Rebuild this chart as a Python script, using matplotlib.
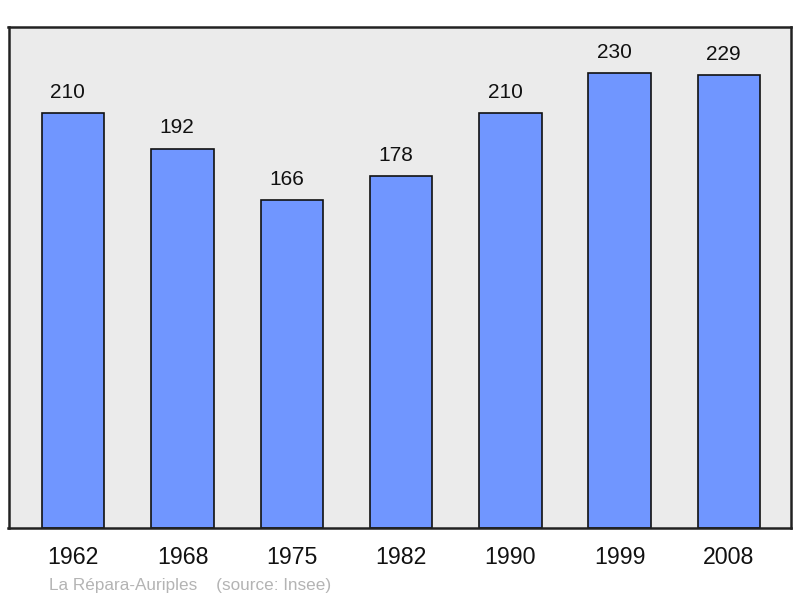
import matplotlib.pyplot as plt

years = ['1962', '1968', '1975', '1982', '1990', '1999', '2008']
population = [210, 192, 166, 178, 210, 230, 229]
commune = 'La Répara-Auriples'
source = '(source: Insee)'

plt.rcParams['font.family'] = ['Liberation Sans', 'DejaVu Sans']

fig = plt.figure(figsize=(8, 5.98), dpi=100)
# axes box in pixels: left 8.5, right 791, top 27, bottom 528
ax = fig.add_axes([8.5 / 800, 1 - 528 / 598, (791 - 8.5) / 800, (528 - 27) / 598])
ax.set_facecolor('#ebebeb')

x = range(len(years))
ax.bar(x, population, width=0.572, color='#7096ff', edgecolor='#111111', linewidth=1.2, zorder=2)

# labels sit a little left of the bar centre in the original
for i, v in enumerate(population):
    ax.annotate(str(v), (i, v), xytext=(-3.8, 11), textcoords='offset points',
                ha='center', va='baseline', fontsize=15, color='#111111')

ax.set_xlim(-0.592, 6.567)
ax.set_ylim(0, 253.5)
ax.set_yticks([])
ax.set_xticks(list(x))
ax.set_xticklabels(years, fontsize=16.7, color='#111111')
ax.tick_params(axis='x', length=0, pad=13)

for s in ax.spines.values():
    s.set_linewidth(1.8)
    s.set_color('#222222')

fig.text(49 / 800, 1 - 590 / 598, commune + '    ' + source, fontsize=12.3,
         color='#b4b4b4', va='baseline', ha='left')

fig.savefig('out.png', dpi=100)
